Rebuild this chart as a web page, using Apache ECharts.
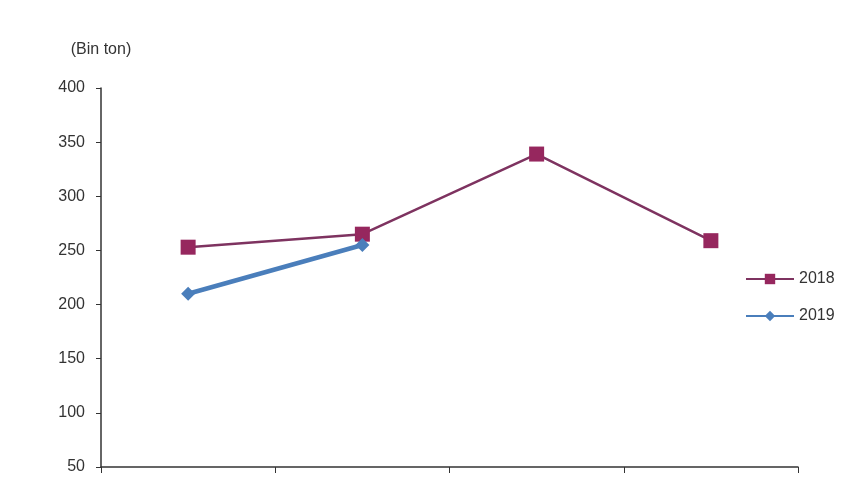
<!DOCTYPE html>
<html>
<head>
<meta charset="utf-8">
<script src="https://cdn.jsdelivr.net/npm/echarts@6/dist/echarts.min.js"></script>
<style>
  html, body { margin: 0; padding: 0; background: #fff; }
  #chart { width: 860px; height: 480px; }
</style>
</head>
<body>
<div id="chart"></div>
<script>
var categories = ['Q1', 'Q2', 'Q3', 'Q4'];
var values2018 = [253, 265, 339, 259];
var values2019 = [210, 255, null, null];
var yTicks = { min: 50, max: 400, interval: 50 };

var chart = echarts.init(document.getElementById('chart'));

var option = {
  animation: false,
  textStyle: { fontFamily: 'Liberation Sans, Arial, sans-serif' },
  grid: { left: 101, right: 62, top: 88, bottom: 13 },
  legend: {
    orient: 'vertical',
    left: 740,
    top: 266,
    itemWidth: 48,
    itemHeight: 13,
    itemGap: 21,
    textStyle: { color: '#333', fontSize: 16 },
    data: ['2018', '2019']
  },
  xAxis: {
    type: 'category',
    data: categories,
    boundaryGap: true,
    axisLine: { lineStyle: { color: '#333', width: 1.5 } },
    axisTick: { show: true, length: 6, lineStyle: { color: '#333' } },
    axisLabel: { show: false },
    splitLine: { show: false }
  },
  yAxis: {
    type: 'value',
    min: yTicks.min,
    max: yTicks.max,
    interval: yTicks.interval,
    name: '(Bin ton)',
    nameLocation: 'end',
    nameGap: 30,
    nameTextStyle: { color: '#333', fontSize: 16 },
    axisLine: { show: true, lineStyle: { color: '#333', width: 1.5 } },
    axisTick: { show: true, length: 5, lineStyle: { color: '#333' } },
    axisLabel: { color: '#333', fontSize: 16, margin: 16 },
    splitLine: { show: false }
  },
  series: [
    {
      name: '2018',
      type: 'line',
      data: values2018,
      symbol: 'rect',
      symbolSize: 15,
      color: '#96275e',
      lineStyle: { color: '#7e3360', width: 2.5 },
      itemStyle: { color: '#96275e' },
      z: 2
    },
    {
      name: '2019',
      type: 'line',
      data: values2019,
      symbol: 'diamond',
      symbolSize: 14,
      color: '#4a7ebb',
      lineStyle: { color: '#4a7ebb', width: 4.5 },
      itemStyle: { color: '#4a7ebb' },
      z: 3
    }
  ]
};

chart.setOption(option);
</script>
</body>
</html>
